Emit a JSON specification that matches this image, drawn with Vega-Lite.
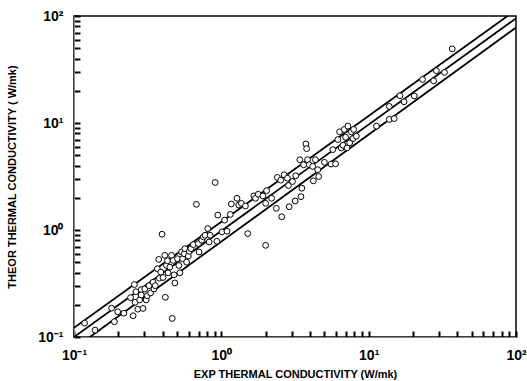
{
  "$schema": "https://vega.github.io/schema/vega-lite/v6.json",
  "width": 442,
  "height": 321,
  "autosize": {"type": "none"},
  "padding": {"left": 74, "top": 16, "right": 11, "bottom": 44},
  "background": "white",
  "config": {
    "view": {"stroke": "black", "strokeWidth": 1.5},
    "axis": {
      "labelFont": "Liberation Sans",
      "labelFontWeight": "bold",
      "labelFontSize": 14,
      "labelColor": "black",
      "titleFont": "Liberation Sans",
      "titleFontWeight": "bold",
      "titleFontSize": 11,
      "titleColor": "black",
      "grid": false,
      "labelOverlap": false,
      "labelFlush": false
    }
  },
  "datasets": {
    "lines": [
      {"line": "upper", "x": 0.1, "y": 0.122},
      {"line": "upper", "x": 100, "y": 114},
      {"line": "middle", "x": 0.1, "y": 0.1},
      {"line": "middle", "x": 100, "y": 95},
      {"line": "lower", "x": 0.1, "y": 0.078},
      {"line": "lower", "x": 100, "y": 78}
    ],
    "pts": [
      {"x": 0.118, "y": 0.135}, {"x": 0.139, "y": 0.116}, {"x": 0.18, "y": 0.186},
      {"x": 0.188, "y": 0.139}, {"x": 0.198, "y": 0.172}, {"x": 0.218, "y": 0.167},
      {"x": 0.242, "y": 0.233}, {"x": 0.252, "y": 0.158}, {"x": 0.257, "y": 0.309},
      {"x": 0.263, "y": 0.265}, {"x": 0.26, "y": 0.211}, {"x": 0.271, "y": 0.182},
      {"x": 0.279, "y": 0.222}, {"x": 0.286, "y": 0.277}, {"x": 0.286, "y": 0.247},
      {"x": 0.294, "y": 0.185}, {"x": 0.302, "y": 0.281}, {"x": 0.309, "y": 0.222},
      {"x": 0.314, "y": 0.243}, {"x": 0.323, "y": 0.302}, {"x": 0.331, "y": 0.258},
      {"x": 0.344, "y": 0.325}, {"x": 0.349, "y": 0.281}, {"x": 0.356, "y": 0.302},
      {"x": 0.368, "y": 0.434}, {"x": 0.376, "y": 0.531}, {"x": 0.38, "y": 0.354},
      {"x": 0.388, "y": 0.404}, {"x": 0.396, "y": 0.913}, {"x": 0.402, "y": 0.36},
      {"x": 0.413, "y": 0.579}, {"x": 0.417, "y": 0.235}, {"x": 0.424, "y": 0.466},
      {"x": 0.431, "y": 0.516}, {"x": 0.435, "y": 0.398}, {"x": 0.447, "y": 0.45},
      {"x": 0.459, "y": 0.579}, {"x": 0.464, "y": 0.149}, {"x": 0.471, "y": 0.52},
      {"x": 0.478, "y": 0.381}, {"x": 0.484, "y": 0.32}, {"x": 0.504, "y": 0.539},
      {"x": 0.515, "y": 0.466}, {"x": 0.523, "y": 0.398}, {"x": 0.537, "y": 0.623},
      {"x": 0.546, "y": 0.539}, {"x": 0.56, "y": 0.6}, {"x": 0.566, "y": 0.669},
      {"x": 0.581, "y": 0.501}, {"x": 0.597, "y": 0.571}, {"x": 0.606, "y": 0.632},
      {"x": 0.622, "y": 0.669}, {"x": 0.646, "y": 0.73}, {"x": 0.677, "y": 1.737},
      {"x": 0.699, "y": 0.746}, {"x": 0.706, "y": 0.623}, {"x": 0.736, "y": 0.802},
      {"x": 0.756, "y": 0.862}, {"x": 0.776, "y": 0.893}, {"x": 0.809, "y": 1.032},
      {"x": 0.826, "y": 0.773}, {"x": 0.839, "y": 0.893}, {"x": 0.908, "y": 2.78},
      {"x": 0.932, "y": 0.785}, {"x": 0.947, "y": 1.378}, {"x": 1.009, "y": 0.96},
      {"x": 1.052, "y": 1.237}, {"x": 1.092, "y": 0.974}, {"x": 1.15, "y": 1.398},
      {"x": 1.169, "y": 1.75}, {"x": 1.278, "y": 1.978}, {"x": 1.312, "y": 1.712},
      {"x": 1.368, "y": 1.775}, {"x": 1.457, "y": 1.675}, {"x": 1.512, "y": 0.926},
      {"x": 1.662, "y": 2.08}, {"x": 1.706, "y": 1.978}, {"x": 1.78, "y": 2.158},
      {"x": 1.915, "y": 2.08}, {"x": 1.998, "y": 0.719}, {"x": 1.998, "y": 1.775},
      {"x": 2.03, "y": 2.335}, {"x": 2.195, "y": 1.978}, {"x": 2.363, "y": 1.593},
      {"x": 2.4, "y": 3.1}, {"x": 2.53, "y": 2.922}, {"x": 2.57, "y": 1.329},
      {"x": 2.667, "y": 3.28}, {"x": 2.81, "y": 3.05}, {"x": 2.855, "y": 2.604},
      {"x": 2.886, "y": 1.651}, {"x": 3.04, "y": 2.84}, {"x": 3.17, "y": 1.867},
      {"x": 3.2, "y": 3.21}, {"x": 3.41, "y": 4.54}, {"x": 3.47, "y": 2.05},
      {"x": 3.52, "y": 2.457}, {"x": 3.62, "y": 4.07}, {"x": 3.75, "y": 6.38},
      {"x": 3.79, "y": 5.76}, {"x": 3.85, "y": 4.54}, {"x": 3.95, "y": 4.07},
      {"x": 4.17, "y": 3.93}, {"x": 4.21, "y": 2.88}, {"x": 4.35, "y": 4.54},
      {"x": 4.51, "y": 3.66}, {"x": 4.58, "y": 3.16}, {"x": 5.01, "y": 4.29},
      {"x": 5.56, "y": 4.13}, {"x": 5.71, "y": 5.64}, {"x": 5.96, "y": 4.16},
      {"x": 6.18, "y": 7.0}, {"x": 6.35, "y": 8.27}, {"x": 6.51, "y": 5.85},
      {"x": 6.69, "y": 6.19}, {"x": 6.83, "y": 8.7}, {"x": 6.97, "y": 7.37},
      {"x": 7.13, "y": 5.85}, {"x": 7.23, "y": 9.35}, {"x": 7.43, "y": 6.52},
      {"x": 7.63, "y": 8.27}, {"x": 7.83, "y": 7.16}, {"x": 7.91, "y": 8.7},
      {"x": 8.25, "y": 7.53}, {"x": 11.3, "y": 9.35}, {"x": 13.8, "y": 10.8},
      {"x": 13.8, "y": 14.3}, {"x": 14.9, "y": 11.0}, {"x": 16.3, "y": 18.0},
      {"x": 17.4, "y": 15.8}, {"x": 20.4, "y": 17.9}, {"x": 23.2, "y": 25.5},
      {"x": 27.6, "y": 24.8}, {"x": 28.8, "y": 30.8}, {"x": 32.7, "y": 29.7},
      {"x": 36.9, "y": 49.3}
    ]
  },
  "layer": [
    {
      "data": {"name": "lines"},
      "mark": {"type": "line", "color": "black", "strokeWidth": 1.8, "clip": true},
      "encoding": {
        "x": {
          "field": "x", "type": "quantitative",
          "scale": {"type": "log", "domain": [0.1, 100], "nice": false},
          "axis": {
            "orient": "bottom", "title": "EXP THERMAL CONDUCTIVITY (W/mk)",
            "values": [0.1,0.2,0.3,0.4,0.5,0.6,0.7,0.8,0.9,1,2,3,4,5,6,7,8,9,10,20,30,40,50,60,70,80,90,100],
            "tickSize": -6, "tickColor": "black", "tickWidth": 2,
            "labelExpr": "datum.value == 0.1 ? '10⁻¹' : datum.value == 1 ? '10⁰' : datum.value == 10 ? '10¹' : datum.value == 100 ? '10²' : ''",
            "labelPadding": 17, "titlePadding": 6
          }
        },
        "y": {
          "field": "y", "type": "quantitative",
          "scale": {"type": "log", "domain": [0.1, 100], "nice": false},
          "axis": {
            "orient": "left", "title": "THEOR THERMAL CONDUCTIVITY ( W/mk)",
            "values": [0.1,0.2,0.3,0.4,0.5,0.6,0.7,0.8,0.9,1,2,3,4,5,6,7,8,9,10,20,30,40,50,60,70,80,90,100],
            "tickSize": -6, "tickColor": "black", "tickWidth": 2,
            "labelExpr": "datum.value == 0.1 ? '10⁻¹' : datum.value == 1 ? '10⁰' : datum.value == 10 ? '10¹' : datum.value == 100 ? '10²' : ''",
            "labelPadding": 17, "titlePadding": 20
          }
        },
        "detail": {"field": "line", "type": "nominal"}
      }
    },
    {
      "data": {"name": "pts"},
      "mark": {"type": "point", "shape": "circle", "filled": true, "fill": "white", "stroke": "black", "strokeWidth": 1, "opacity": 1, "size": 34},
      "encoding": {
        "x": {"field": "x", "type": "quantitative", "scale": {"type": "log", "domain": [0.1, 100], "nice": false}},
        "y": {"field": "y", "type": "quantitative", "scale": {"type": "log", "domain": [0.1, 100], "nice": false}}
      }
    }
  ]
}
